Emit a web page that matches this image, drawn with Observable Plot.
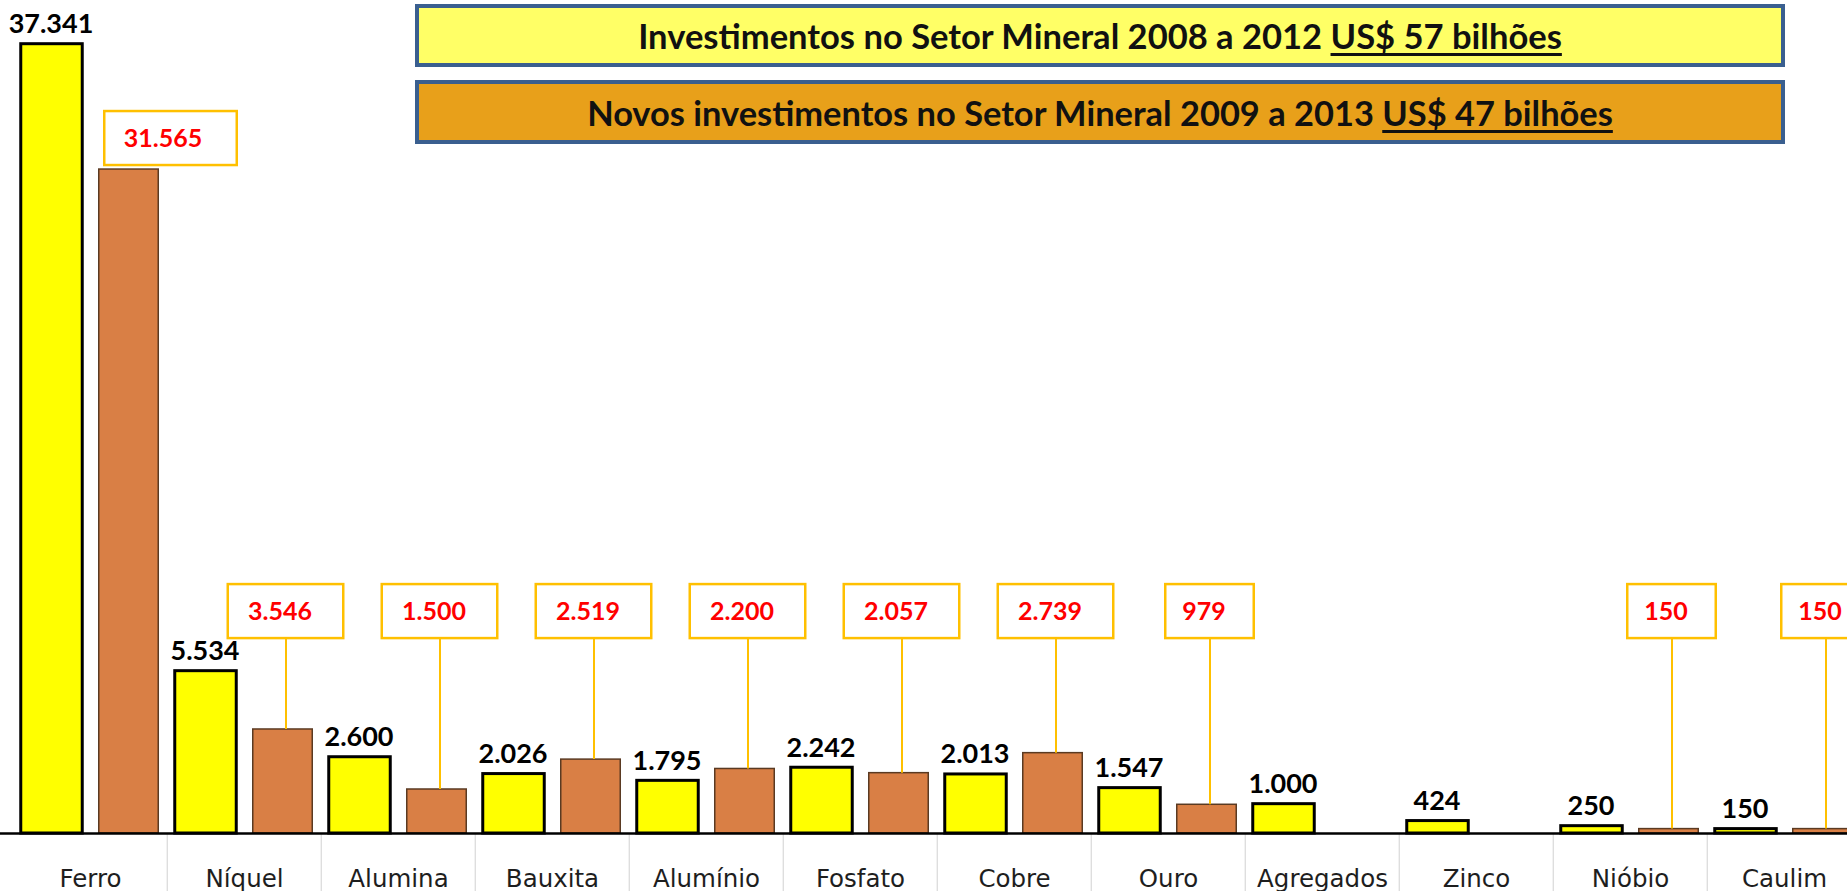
<!DOCTYPE html>
<html><head><meta charset="utf-8">
<script src="https://cdn.jsdelivr.net/npm/d3@7"></script>
<script src="https://cdn.jsdelivr.net/npm/@observablehq/plot@0.6"></script>
<style>
html,body{margin:0;padding:0;background:#fff;overflow:hidden}
#wrap{position:relative;width:1847px;height:891px}
.hdr{position:absolute;left:415px;width:1370px;box-sizing:border-box;border:4px solid #3A5F8F;display:flex;align-items:center;justify-content:center;font-family:Lato,sans-serif;font-weight:bold;color:#111;white-space:nowrap}
.hdr u{text-decoration-thickness:3px;text-underline-offset:4px}
</style></head><body><div id="wrap"></div>
<script>
// ---- data ----
const minerals = ["Ferro","Níquel","Alumina","Bauxita","Alumínio","Fosfato","Cobre","Ouro","Agregados","Zinco","Nióbio","Caulim"];
const inv2008_2012 = [37341,5534,2600,2026,1795,2242,2013,1547,1000,424,250,150];
const inv2009_2013 = [31565,3546,1500,2519,2200,2057,2739,979,null,null,150,150];
const header1 = ["Investimentos no Setor Mineral 2008 a 2012 ", "US$ 57 bilhões"];
const header2 = ["Novos investimentos no Setor Mineral 2009 a 2013 ", "US$ 47 bilhões"];

// ---- layout ----
const W = 1847, H = 891, mb = 58;
const base = H - mb;
const yBreaks = [0, 6000, 30000, 40000];   // broken (piecewise) value axis
const yHeights = [0, 176, 630, 847];
const calloutAt = 7000;
const xRange = [10, 1864];
const step = (xRange[1] - xRange[0]) / minerals.length;
const off = 38.5;

const fmt = d3.formatLocale({decimal: ",", thousands: ".", grouping: [3], currency: ["", ""]}).format(",d");

const rows = minerals.map((m, i) => ({mineral: m, a: inv2008_2012[i], b: inv2009_2013[i]}));
const rowsB = rows.filter(d => d.b != null);
const ferroB = rowsB.filter(d => d.mineral === "Ferro");
const calloutB = rowsB.filter(d => d.mineral !== "Ferro");
const wide = calloutB.filter(d => fmt(d.b).length > 3);
const narrow = calloutB.filter(d => fmt(d.b).length <= 3);
const boxStyle = {fill: "#fff", stroke: "#FFC000", strokeWidth: 2.5};
const redText = {fontFamily: "Lato", fontWeight: "bold", fontSize: 25, fill: "#FF0000"};

const chart = Plot.plot({
  width: W, height: H, marginTop: 0, marginLeft: 0, marginRight: 0, marginBottom: mb,
  style: {background: "transparent", overflow: "visible"},
  x: {domain: minerals, range: xRange, padding: 0, axis: null},
  y: {type: "linear", domain: yBreaks, range: yHeights.map(h => base - h), axis: null},
  marks: [
    Plot.ruleX(minerals.slice(1), {x: d => d, y1: 0, y2: 0, dx: -step / 2, insetBottom: -mb, stroke: "#d9d9d9", strokeWidth: 1.2}),
    Plot.barY(rows, {x: "mineral", y1: 0, y2: "a", dx: -off, insetLeft: (step - 62) / 2, insetRight: (step - 62) / 2, fill: "#FFFF00", stroke: "#000", strokeWidth: 3}),
    Plot.barY(rowsB, {x: "mineral", y1: 0, y2: "b", dx: off, insetLeft: (step - 60) / 2, insetRight: (step - 60) / 2, fill: "#D97F45", stroke: "#5a3a22", strokeWidth: 1.5}),
    Plot.ruleY([0], {stroke: "#000", strokeWidth: 2.5}),
    Plot.axisX({tickSize: 0, tickPadding: 36, fontSize: 24.5, fontFamily: "DejaVu Sans", fill: "#1e1e1e", label: null}),
    Plot.text(rows, {x: "mineral", y: "a", text: d => fmt(d.a), dx: -off - 1, dy: -11, lineAnchor: "bottom", fontFamily: "Lato", fontWeight: "bold", fontSize: 27, fill: "#000"}),
    Plot.ruleX(calloutB, {x: "mineral", y1: "b", y2: calloutAt, dx: off + 3, stroke: "#FFC000", strokeWidth: 2}),
    Plot.barY(wide, {x: "mineral", y1: calloutAt, y2: calloutAt, insetTop: -54, dx: off + 3, insetLeft: (step - 116) / 2, insetRight: (step - 116) / 2, ...boxStyle}),
    Plot.barY(narrow, {x: "mineral", y1: calloutAt, y2: calloutAt, insetTop: -54, dx: off + 3, insetLeft: (step - 89) / 2, insetRight: (step - 89) / 2, ...boxStyle}),
    Plot.text(calloutB, {x: "mineral", y: calloutAt, text: d => fmt(d.b), dx: off - 3, dy: -27, ...redText}),
    Plot.barY(ferroB, {x: "mineral", y1: "b", y2: "b", insetTop: -54, dy: -4, dx: off + 42, insetLeft: (step - 133) / 2, insetRight: (step - 133) / 2, ...boxStyle}),
    Plot.text(ferroB, {x: "mineral", y: "b", text: d => fmt(d.b), dx: off + 34, dy: -31, ...redText})
  ]
});
const wrap = document.getElementById("wrap");
wrap.appendChild(chart);

function header(parts, top, h, bg, targetW) {
  const div = document.createElement("div");
  div.className = "hdr";
  div.style.top = top + "px";
  div.style.height = h + "px";
  div.style.background = bg;
  const span = document.createElement("span");
  span.append(parts[0]);
  const u = document.createElement("u");
  u.textContent = parts[1];
  span.appendChild(u);
  div.appendChild(span);
  wrap.appendChild(div);
  span.style.fontSize = "30px";
  const w = span.getBoundingClientRect().width;
  span.style.fontSize = (30 * targetW / w).toFixed(2) + "px";
}
header(header1, 4, 63, "#FFFF66", 924);
header(header2, 80, 64, "#E8A01A", 1026);
</script></body></html>
